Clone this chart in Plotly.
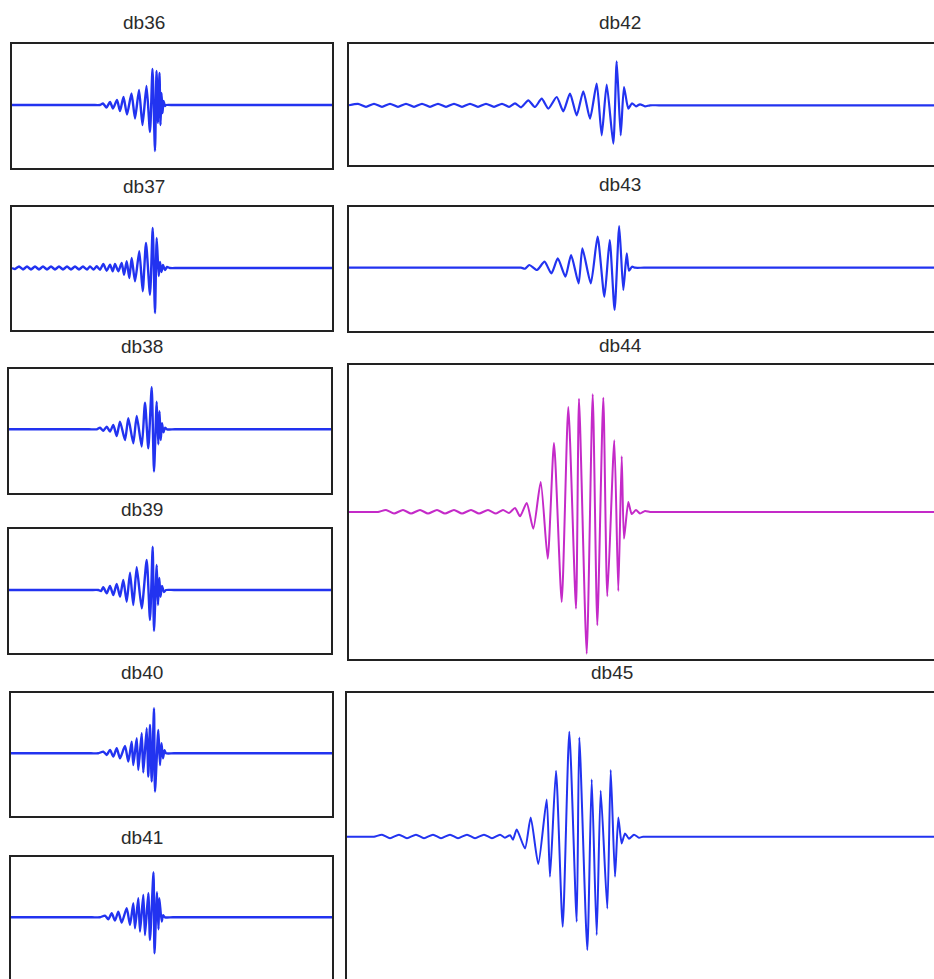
import plotly.graph_objects as go

W, H = 934, 979

# ---------------- data (time in samples, amplitude in arbitrary units) ----------------
names = ["db36", "db37", "db38", "db39", "db40", "db41", "db42", "db43", "db44", "db45"]

t36 = [0, 80, 88, 91, 94.5, 98, 101, 105, 108, 111.5, 115, 119.5, 123, 127, 130.5, 134.5, 138, 140.5, 143,
       144.5, 146, 147.5, 148.5, 149.5, 150.5, 151.5, 153, 154, 162, 320]
v36 = [0, 0, 0, 1.5, -2.5, 3, -3.5, 5, -6, 8, -9.5, 11.5, -13.5, 15, -20, 19, -27, 36, -46,
       34, -18, 32, -20, 12, -8, 4, -1, 0, 0, 0]

t37 = [0, 3, 7, 11, 15, 19, 23, 27, 31, 35, 39, 43, 47, 51, 55, 59, 63, 67, 71, 75,
       78, 81.5, 84.7, 88, 91.3, 94.7, 98, 100.7, 103, 106.3, 109.7, 112, 114.7, 117.3, 119.7, 123,
       127.3, 130.7, 134, 138, 140.7, 143, 144.7, 146.7, 148, 149.5, 151, 153, 155, 158, 166, 320]
v37 = [0, -1, 1.5, -1.5, 1.5, -1.5, 1.5, -1.5, 1.5, -1.5, 1.5, -1.5, 1.5, -1.5, 1.5, -1.5, 1.5, -1.5, 1.5, -1.5,
       1.5, -1.5, 1.7, -1.7, 4, -2.7, 3.3, -3.3, 4, -3.3, 5, -6.7, 6.7, -10, 10, -13.3,
       16.7, -23.3, 25, -26.7, 40, -45, 30, -8, 6, -4, 3, -2, 1, 0, 0, 0]

t38 = [0, 80, 87.7, 91, 94.3, 97.7, 101, 104.3, 107.7, 111, 116, 119.3, 124.3, 127.7, 132.7, 136, 139.3,
       142.7, 145, 147.7, 149.3, 150.5, 151.7, 153, 154.5, 156, 158, 166, 322]
v38 = [0, 0, 0, 1.7, -1.5, 2.7, -2.3, 4.3, -6.7, 7.7, -10.7, 11, -14, 13.3, -17.3, 26.7, -19,
       42, -42.3, 27.7, -15, 18, -10.7, 6, -3, 1.5, 0, 0, 0]

t39 = [0, 81, 89.3, 92, 94.3, 97.7, 101, 104.3, 107.7, 111, 114.3, 117.7, 121, 124.3, 127.7, 132.7, 137.7,
       141, 143.7, 145, 147.7, 149, 150.3, 151.5, 153, 155, 157, 165, 322]
v39 = [0, 0, 0, -1, 2.7, -3.3, 4, -5, 6, -6.7, 10, -11.7, 17.3, -15, 22.7, -18.3, 30,
       -30, 43.3, -41, 25, -15, 12, -6.7, 4, -2, 0, 0, 0]

t40 = [0, 80, 87.3, 92.3, 95.7, 99, 102.3, 105.7, 109, 114, 117.3, 120.7, 122.3, 125.7, 127.3, 130.7, 132.3,
       135.7, 137.3, 139, 140.7, 143, 144, 147.3, 149, 150.5, 152, 153.5, 155, 163, 321]
v40 = [0, 0, 0, 1.7, -1.7, 3.3, -3.3, 5, -5, 7.3, -8.3, 11.7, -11.7, 15, -16.7, 20, -19.3,
       25, -23.3, 28.3, -28.3, 45, -38.3, 23.3, -11.7, 10, -5, 3, 0, 0, 0]

t41 = [0, 81, 89, 94, 97.3, 100.7, 104, 107.3, 110.7, 115.7, 119, 122.3, 124, 127.3, 129, 132.3, 134,
       137.3, 139, 142.5, 143.5, 146, 147.5, 148.3, 150.7, 152, 154, 162, 321]
v41 = [0, 0, 0, 1.7, -2, 4, -3.3, 5.7, -5.3, 9, -7.7, 14, -11, 19, -14.3, 22.3, -17.7,
       24, -22.7, 45, -36, 25, -12, 19, -4.3, 2, 0, 0, 0]

t42 = [0, 9, 17, 25, 33, 41, 49, 57, 65, 73, 81, 89, 97, 105, 113, 121, 129, 137, 145, 153,
       160, 166, 172, 179.3, 186, 192.7, 199.3, 207.7, 214.3, 221, 227.7, 234.3, 241, 247.7, 252.7,
       257.7, 264.3, 267.7, 271.7, 275, 279.3, 283, 287, 291, 296, 301, 310, 585]
v42 = [0, 1.5, -1.5, 1.5, -1.5, 1.5, -1.5, 1.5, -1.5, 1.5, -1.5, 1.5, -1.5, 1.5, -1.5, 1.5, -1.5, 1.5, -1.5, 1.5,
       -1.5, 2, -2, 5, -1.7, 6.7, -3.3, 8.3, -6, 11.7, -10, 14, -13.3, 21.7, -30,
       20.7, -38.3, 44, -30, 18.3, -3.3, 2, -1, 1, -1, 0, 0, 0]

t43 = [0, 164, 172, 176, 180.4, 188, 195.5, 202.4, 208.8, 216.4, 222.1, 229.6, 233.4, 241.8, 248.6, 255.4,
       260.7, 265.6, 270.2, 274.3, 277.7, 280, 283, 286, 295, 585]
v43 = [0, 0, 0, -1, 2.7, -2.3, 6, -5.7, 9.3, -9, 12.7, -15.7, 19.3, -15.7, 31, -29,
       27.7, -42.3, 41.7, -22.3, 14.3, -3, 1, 0, 0, 0]

t44 = [0, 21, 29, 37, 45, 54, 62, 71, 79, 88, 96, 105, 113, 122, 130, 139, 147, 154, 160, 166, 171,
       177.7, 184.3, 191.7, 198.7, 205, 212.7, 219.3, 227, 230, 237.7, 243.7, 248.3, 254.3, 258.3,
       265.3, 269.3, 272.7, 275, 279.3, 282.7, 287, 291, 296, 301, 310, 585]
v44 = [0, 0, 0, 2, -1.5, 2, -1.5, 2, -1.5, 2, -1.5, 2, -1.5, 2, -1.5, 2, -1.5, 2, -1, 4, -4.3,
       9, -16.7, 30, -46.7, 69, -90, 105, -96.7, 113.3, -141.7, 117.7, -113.3, 114.3, -84.3,
       71.7, -79, 55.7, -26.7, 10, -2, 2, -1.5, 1, 0, 0, 0]

t45 = [0, 19.5, 27.5, 35.5, 43.5, 52.5, 60.5, 69.5, 77.5, 86.5, 94.5, 103.5, 111.5, 120.5, 128.5, 137.5,
       145.5, 153.5, 158.5, 163.5, 166.5, 170.2, 178.5, 184.2, 191.8, 200.2, 203.5, 209.5, 216.2,
       222.8, 230.2, 232.8, 240.8, 245.2, 250.2, 254.2, 260.8, 264.2, 268.5, 271.8, 275.2, 278.5,
       282.5, 287.5, 292.5, 296.5, 305, 587.5]
v45 = [0, 0, 0, 2, -1.5, 2, -1.5, 2, -1.5, 2, -1.5, 2, -1.5, 2, -1.5, 2,
       -1.5, 2, -1, 1.5, -3, 7.3, -11.7, 19.3, -27.3, 37.3, -40, 66, -90,
       105, -85, 99.3, -113.3, 57.3, -98.3, 46, -71.7, 66.7, -40, 19.3, -6.7, 3.3,
       -2, 2, -1, 0, 0, 0]

series_t = [t36, t37, t38, t39, t40, t41, t42, t43, t44, t45]
series_v = [v36, v37, v38, v39, v40, v41, v42, v43, v44, v45]

# ---------------- layout config (pixels) ----------------
BLUE = "#2233f0"
MAGENTA = "#c42ac8"
# left, right, top, bottom, baseline, title_x, title_y, draw_right, draw_bottom, line width
geom = [
    (12, 332, 44, 168, 105, 144, 22, True, True, 2.4),
    (12, 332, 207, 330, 268, 144, 186, True, True, 2.4),
    (9, 331, 369, 493, 429.3, 142, 347, True, True, 2.4),
    (9, 331, 529, 653, 590, 142, 510, True, True, 2.4),
    (11, 332, 693, 816, 753.3, 142, 672, True, True, 2.4),
    (11, 332, 857, 979, 917.3, 142, 837, True, False, 2.4),
    (349, 934, 44, 165, 105.3, 620, 22, False, True, 2.2),
    (349, 934, 207, 331, 267.7, 620, 185, False, True, 2.2),
    (349, 934, 365, 659, 512, 620, 345, False, True, 2),
    (346.5, 934, 693, 979, 836.7, 612, 672, False, False, 2),
]
colors = [BLUE] * 8 + [MAGENTA, BLUE]

fig = go.Figure()
layout = dict(
    width=W, height=H, margin=dict(l=0, r=0, t=0, b=0),
    paper_bgcolor="white", plot_bgcolor="white", showlegend=False,
    annotations=[],
)

for i, (name, t, v, g, c) in enumerate(zip(names, series_t, series_v, geom, colors)):
    l, r, tp, bt, base, tx, ty, draw_right, draw_bottom, lw = g
    k = "" if i == 0 else str(i + 1)
    fig.add_trace(go.Scatter(x=t, y=v, mode="lines",
                             line=dict(color=c, width=lw, shape="spline", smoothing=0.6),
                             xaxis="x" + k, yaxis="y" + k, hoverinfo="skip"))
    xa = dict(domain=[l / W, r / W], range=[0, r - l], showgrid=False, zeroline=False,
              showticklabels=False, ticks="", showline=True, linecolor="#222", linewidth=2,
              anchor="y" + k, fixedrange=True)
    if draw_bottom:
        xa["mirror"] = True
    else:
        xa["side"] = "top"
        xa["mirror"] = False
    ya = dict(domain=[max(0, 1 - bt / H), 1 - tp / H], range=[-(bt - base), base - tp],
              showgrid=False, zeroline=False, showticklabels=False, ticks="",
              showline=True, linecolor="#222", linewidth=2, mirror=draw_right,
              anchor="x" + k, fixedrange=True)
    layout["xaxis" + k] = xa
    layout["yaxis" + k] = ya
    layout["annotations"].append(dict(
        text=name, x=tx / W, y=1 - ty / H, xref="paper", yref="paper",
        xanchor="center", yanchor="middle", showarrow=False,
        font=dict(family="Liberation Sans, Arial, sans-serif", size=19, color="#2b2b2b")))

fig.update_layout(**layout)
fig.write_html(
    "out.html",
    config={"displayModeBar": False},
    post_script="document.body.style.margin='0';document.body.style.overflow='hidden';",
)
